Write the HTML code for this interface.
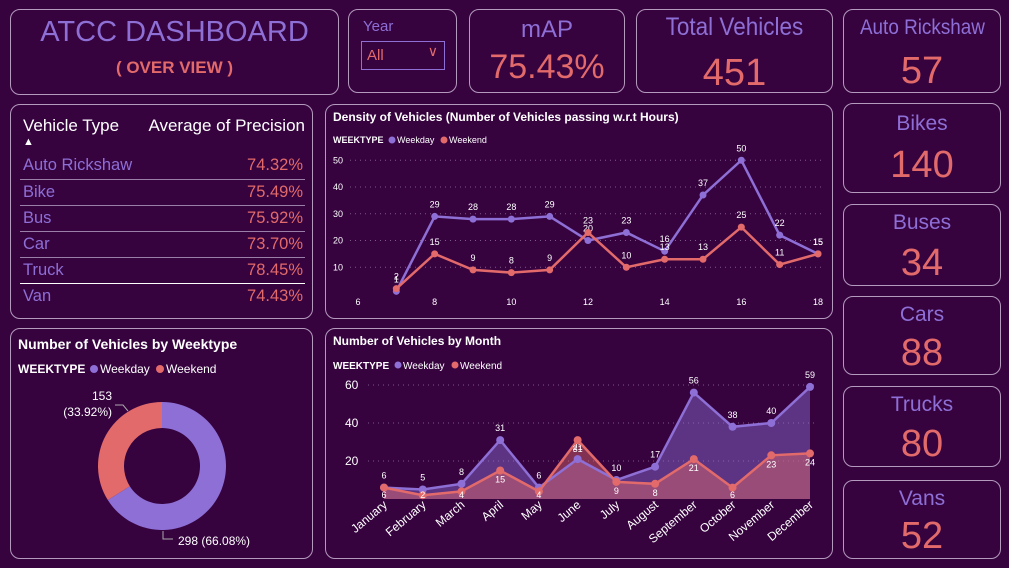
<!DOCTYPE html>
<html><head><meta charset="utf-8">
<style>
*{box-sizing:border-box;margin:0;padding:0}
body{width:1009px;height:568px;background:#36033f;font-family:"Liberation Sans","DejaVu Sans",sans-serif;position:relative;overflow:hidden;color:#fff}
.p{position:absolute;border:1.5px solid #b49abd;border-radius:10px}
.c{position:absolute;left:0;right:0;text-align:center}
.pur{color:#8e6fd6}.cor{color:#e26a6a}
.card .t{top:6px;font-size:21px;color:#8e6fd6}
.card .v{font-size:38px;color:#e26a6a}
.sq{display:inline-block;transform:scaleX(0.9)}
table{border-collapse:collapse}
</style></head><body>
<div class="p" style="left:10px;top:9px;width:329px;height:86px">
 <div class="c pur" style="top:6px;font-size:29px">ATCC DASHBOARD</div>
 <div class="c cor" style="top:48px;font-size:17px;font-weight:bold">( OVER VIEW )</div>
</div>
<div class="p" style="left:348px;top:9px;width:109px;height:84px">
 <div style="position:absolute;left:14px;top:8px;font-size:15px;color:#8e6fd6">Year</div>
 <div style="position:absolute;left:12px;top:31px;width:84px;height:29px;border:1.5px solid #8e6fd6;color:#e26a6a;font-size:15px;padding:5px 5px">All<span style="position:absolute;right:6px;top:1px;font-size:14px">&#8744;</span></div>
</div>
<div class="p card" style="left:469px;top:9px;width:156px;height:84px">
 <div class="c t" style="font-size:24px">mAP</div>
 <div class="c v" style="top:38px;font-size:34px">75.43%</div>
</div>
<div class="p card" style="left:636px;top:9px;width:197px;height:84px">
 <div class="c t" style="top:3px;font-size:25px"><span class="sq">Total Vehicles</span></div>
 <div class="c v" style="top:42px">451</div>
</div>
<div class="p card" style="left:843px;top:9px;width:158px;height:84px">
 <div class="c t"><span class="sq">Auto Rickshaw</span></div><div class="c v" style="top:40px">57</div></div>
<div class="p card" style="left:843px;top:103px;width:158px;height:90px">
 <div class="c t" style="top:8px">Bikes</div><div class="c v" style="top:40px">140</div></div>
<div class="p card" style="left:843px;top:204px;width:158px;height:82px">
 <div class="c t">Buses</div><div class="c v" style="top:37px">34</div></div>
<div class="p card" style="left:843px;top:296px;width:158px;height:79px">
 <div class="c t">Cars</div><div class="c v" style="top:35px">88</div></div>
<div class="p card" style="left:843px;top:386px;width:158px;height:81px">
 <div class="c t">Trucks</div><div class="c v" style="top:36px">80</div></div>
<div class="p card" style="left:843px;top:480px;width:158px;height:79px">
 <div class="c t">Vans</div><div class="c v" style="top:34px">52</div></div>

<div class="p" style="left:10px;top:104px;width:303px;height:215px">
 <table style="position:absolute;left:9px;top:4px;width:285px;font-size:16.5px">
  <tr style="height:44px;vertical-align:top"><td style="padding:7px 3px 0;font-size:17px">Vehicle Type<div style="font-size:11px;line-height:12px">&#9650;</div></td><td style="text-align:right;padding:7px 0 0;font-size:17px">Average of Precision</td></tr>
  <tr style="height:26px;border-bottom:1px solid #9a80a8"><td class="pur" style="padding-left:3px">Auto Rickshaw</td><td class="cor" style="text-align:right;padding-right:2px">74.32%</td></tr>
  <tr style="height:26px;border-bottom:1px solid #9a80a8"><td class="pur" style="padding-left:3px">Bike</td><td class="cor" style="text-align:right;padding-right:2px">75.49%</td></tr>
  <tr style="height:26px;border-bottom:1px solid #9a80a8"><td class="pur" style="padding-left:3px">Bus</td><td class="cor" style="text-align:right;padding-right:2px">75.92%</td></tr>
  <tr style="height:26px;border-bottom:1px solid #9a80a8"><td class="pur" style="padding-left:3px">Car</td><td class="cor" style="text-align:right;padding-right:2px">73.70%</td></tr>
  <tr style="height:26px;border-bottom:1px solid #fff"><td class="pur" style="padding-left:3px">Truck</td><td class="cor" style="text-align:right;padding-right:2px">78.45%</td></tr>
  <tr style="height:26px"><td class="pur" style="padding-left:3px">Van</td><td class="cor" style="text-align:right;padding-right:2px">74.43%</td></tr>
 </table>
</div>

<div class="p" style="left:325px;top:104px;width:508px;height:215px"></div>
<div class="p" style="left:10px;top:328px;width:303px;height:231px"></div>
<div class="p" style="left:325px;top:328px;width:508px;height:231px"></div>

<svg id="svg" width="1009" height="568" style="position:absolute;left:0;top:0" font-family="Liberation Sans, sans-serif">
 <text x="333" y="121" font-size="12" font-weight="bold" fill="#fff">Density of Vehicles (Number of Vehicles passing w.r.t Hours)</text>
 <g font-size="9" fill="#fff">
  <text x="333" y="143" font-weight="bold">WEEKTYPE</text>
  <circle cx="392" cy="140" r="3.5" fill="#8e6fd6"/><text x="397" y="143">Weekday</text>
  <circle cx="444" cy="140" r="3.5" fill="#e26a6a"/><text x="449" y="143">Weekend</text>
 </g>
 <text x="18" y="349" font-size="14" font-weight="bold" fill="#fff">Number of Vehicles by Weektype</text>
 <g font-size="12" fill="#fff">
  <text x="18" y="373" font-weight="bold">WEEKTYPE</text>
  <circle cx="94" cy="369" r="4" fill="#8e6fd6"/><text x="100" y="373">Weekday</text>
  <circle cx="160" cy="369" r="4" fill="#e26a6a"/><text x="166" y="373">Weekend</text>
 </g>
 <text x="333" y="345" font-size="12" font-weight="bold" fill="#fff">Number of Vehicles by Month</text>
 <g font-size="10" fill="#fff">
  <text x="333" y="369" font-weight="bold">WEEKTYPE</text>
  <circle cx="398" cy="365" r="3.5" fill="#8e6fd6"/><text x="403" y="369">Weekday</text>
  <circle cx="455" cy="365" r="3.5" fill="#e26a6a"/><text x="460" y="369">Weekend</text>
 </g>
 <g id="dens"></g><g id="donut"></g><g id="month"></g>
</svg>
<script>
const hours=[7,8,9,10,11,12,13,14,15,16,17,18];
const hourWeekday=[1,29,28,28,29,20,23,16,37,50,22,15];
const hourWeekend=[2,15,9,8,9,23,10,13,13,25,11,15];
const hourTicks=[6,8,10,12,14,16,18];
const hourYTicks=[10,20,30,40,50];
const months=["January","February","March","April","May","June","July","August","September","October","November","December"];
const monthWeekday=[6,5,8,31,6,21,10,17,56,38,40,59];
const monthWeekend=[6,2,4,15,4,31,9,8,21,6,23,24];
const monthYTicks=[20,40,60];
const weektypeLabels=["Weekday","Weekend"];
const weektypeValues=[298,153];

const NS="http://www.w3.org/2000/svg";
function mk(p,tag,a,txt){const e=document.createElementNS(NS,tag);for(const k in a)e.setAttribute(k,a[k]);if(txt!==undefined)e.textContent=txt;p.appendChild(e);return e;}
const PUR="#8e6fd6",COR="#e26a6a";

// density
const dg=document.getElementById('dens');
const dx=h=>358+(h-6)*(818-358)/12, dy=v=>294-v*2.675;
hourYTicks.forEach(t=>{mk(dg,'line',{x1:350,x2:822,y1:dy(t),y2:dy(t),stroke:'#7a5a86','stroke-dasharray':'1 4'});
 const e=mk(dg,'text',{x:333,y:dy(t)+3,'font-size':9,fill:'#fff'},t);
 
 });
hourTicks.forEach(t=>{const e=mk(dg,'text',{x:dx(t),y:305,'font-size':9,fill:'#fff','text-anchor':'middle'},t);
 
 });
[[hourWeekday,PUR,'weekday',-9],[hourWeekend,COR,'weekend',-9]].forEach(([vals,col,nm,off])=>{
 const l=mk(dg,'polyline',{points:hours.map((h,i)=>dx(h)+','+dy(vals[i])).join(' '),fill:'none',stroke:col,'stroke-width':2.5});
 
 
 hours.forEach((h,i)=>{const c=mk(dg,'circle',{cx:dx(h),cy:dy(vals[i]),r:3.5,fill:col});
  
  
  const t=mk(dg,'text',{x:dx(h),y:dy(vals[i])+off,'font-size':9,fill:'#fff','text-anchor':'middle'},vals[i]);
  
  });
});

// donut
const og=document.getElementById('donut');
const cx=162,cy=466,R=64,r=38,tot=weektypeValues.reduce((a,b)=>a+b,0);
let ang=0;const cols=[PUR,COR];
weektypeValues.forEach((v,i)=>{const a0=ang,a1=ang+v/tot*2*Math.PI;ang=a1;
 const P=(rr,a)=>(cx+rr*Math.sin(a))+','+(cy-rr*Math.cos(a));const lg=(a1-a0)>Math.PI?1:0;
 const pth=mk(og,'path',{d:`M${P(R,a0)}A${R},${R} 0 ${lg} 1 ${P(R,a1)}L${P(r,a1)}A${r},${r} 0 ${lg} 0 ${P(r,a0)}Z`,fill:cols[i]});
 
 });
const pc=v=>(v/tot*100).toFixed(2)+'%';
let t1=mk(og,'text',{x:178,y:545,'font-size':12,fill:'#fff'},weektypeValues[0]+' ('+pc(weektypeValues[0])+')');


mk(og,'path',{d:'M163,531 v8 h10',stroke:'#aaa',fill:'none'});
let t2=mk(og,'text',{x:112,y:400,'font-size':12,fill:'#fff','text-anchor':'end'},weektypeValues[1]);


let t3=mk(og,'text',{x:112,y:416,'font-size':12,fill:'#fff','text-anchor':'end'},'('+pc(weektypeValues[1])+')');


mk(og,'path',{d:'M115,405 h8 l5,6',stroke:'#aaa',fill:'none'});

// month
const mg=document.getElementById('month');
const mx=i=>384+i*(810-384)/11, my=v=>499-v*1.9;
monthYTicks.forEach(t=>{mk(mg,'line',{x1:368,x2:818,y1:my(t),y2:my(t),stroke:'#7a5a86','stroke-dasharray':'1 4'});
 const e=mk(mg,'text',{x:345,y:my(t)+4,'font-size':12,fill:'#fff'},t);
 
 });
[[monthWeekday,'weekday','rgba(142,111,214,0.45)'],[monthWeekend,'weekend','rgba(226,106,106,0.45)']].forEach(([vals,nm,fc])=>{
 const pts=months.map((m,i)=>mx(i)+','+my(vals[i])).join(' ');
 const a=mk(mg,'polygon',{points:mx(0)+','+my(0)+' '+pts+' '+mx(11)+','+my(0),fill:fc});
 
 
});
[[monthWeekday,PUR,'weekday',-9],[monthWeekend,COR,'weekend',12]].forEach(([vals,col,nm,off])=>{
 const l=mk(mg,'polyline',{points:months.map((m,i)=>mx(i)+','+my(vals[i])).join(' '),fill:'none',stroke:col,'stroke-width':2.5});
 
 
 months.forEach((m,i)=>{const c=mk(mg,'circle',{cx:mx(i),cy:my(vals[i]),r:4,fill:col});
  
  
  const t=mk(mg,'text',{x:mx(i),y:Math.min(my(vals[i])+off,498),'font-size':9,fill:'#fff','text-anchor':'middle'},vals[i]);
  
  });
});
months.forEach((m,i)=>{const t=mk(mg,'text',{x:mx(i)+4,y:506,'font-size':12,fill:'#fff','text-anchor':'end',transform:`rotate(-40 ${mx(i)+4} 506)`},m);
 
 });
</script>
</body></html>
